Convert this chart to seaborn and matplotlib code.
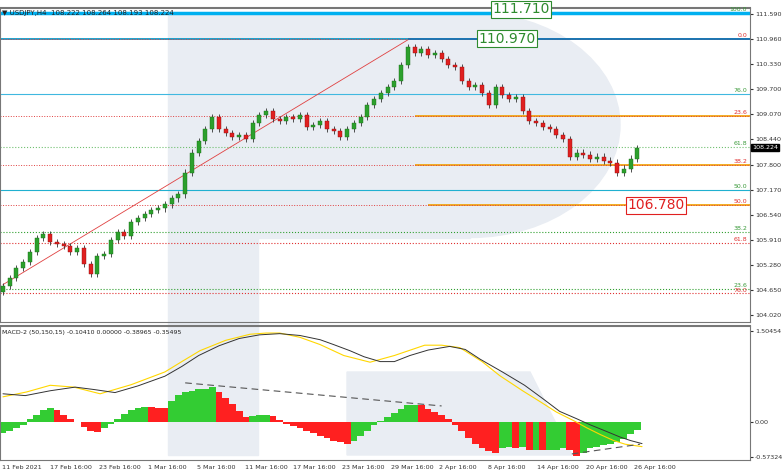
import numpy as np
import pandas as pd
import matplotlib
matplotlib.use("Agg")
import matplotlib.pyplot as plt
import seaborn as sns
from matplotlib.patches import Rectangle, Ellipse, Polygon

sns.set_style("white")
plt.rcParams['font.family'] = ['DejaVu Sans']

closes = [104.75,104.95,105.2,105.35,105.6,105.95,106.05,105.85,105.8,105.75,
          105.6,105.7,105.3,105.05,105.5,105.55,105.9,106.1,106.0,106.35,
          106.45,106.55,106.65,106.7,106.8,106.95,107.05,107.6,108.1,108.4,
          108.7,109.0,108.7,108.6,108.5,108.55,108.45,108.85,109.05,109.15,
          108.95,108.9,109.0,108.95,109.05,108.75,108.8,108.9,108.7,108.65,
          108.5,108.7,108.85,109.0,109.3,109.45,109.6,109.75,109.9,110.3,
          110.75,110.6,110.7,110.55,110.6,110.45,110.3,110.25,109.9,109.75,
          109.8,109.6,109.3,109.75,109.55,109.45,109.5,109.15,108.9,108.85,
          108.75,108.7,108.55,108.45,108.0,108.1,108.05,107.95,108.0,107.9,
          107.85,107.6,107.7,107.95,108.224]
open0 = 104.6
hist = [-0.18,-0.15,-0.1,-0.05,0.05,0.12,0.2,0.24,0.2,0.12,
        0.05,0.0,-0.08,-0.15,-0.16,-0.1,-0.02,0.06,0.14,0.2,
        0.23,0.26,0.25,0.24,0.23,0.35,0.45,0.5,0.52,0.55,
        0.55,0.58,0.5,0.4,0.3,0.18,0.08,0.1,0.12,0.12,
        0.1,0.04,-0.02,-0.06,-0.1,-0.14,-0.18,-0.22,-0.26,-0.3,
        -0.33,-0.35,-0.3,-0.22,-0.15,-0.05,0.02,0.08,0.15,0.22,
        0.28,0.29,0.28,0.22,0.17,0.12,0.05,-0.05,-0.15,-0.25,
        -0.35,-0.42,-0.48,-0.5,-0.42,-0.4,-0.42,-0.4,-0.45,-0.45,
        -0.46,-0.45,-0.45,-0.42,-0.45,-0.55,-0.5,-0.42,-0.4,-0.38,
        -0.36,-0.32,-0.28,-0.2,-0.12]
macd_x = [0,3.3,7,10.7,13.5,16.6,20,24,26.5,29,32,35,38,41,44,47,49,51.4,53.5,55.9,58,60.3,63,66.2,68.5,70.7,74,77.3,80,82.5,85,87,89,91.4,93,94.7]
macd_v = [0.47,0.44,0.52,0.58,0.54,0.49,0.6,0.76,0.92,1.10,1.26,1.38,1.44,1.46,1.43,1.36,1.28,1.18,1.08,1.0,1.0,1.10,1.19,1.25,1.2,1.04,0.83,0.61,0.39,0.18,0.06,-0.04,-0.13,-0.24,-0.3,-0.35]
sig_x = [0,3.5,7,10.5,14.4,19,24,26.5,29.2,33,36.6,39,41,44,47,50.5,54.4,58,62.5,65,67.7,71,73.6,77,79.6,82,84.7,86.5,88.5,90.5,92.2,94.7]
sig_v = [0.42,0.5,0.61,0.58,0.47,0.62,0.83,1.0,1.18,1.35,1.45,1.47,1.47,1.4,1.28,1.1,0.99,1.1,1.27,1.27,1.23,1.0,0.77,0.52,0.34,0.17,0.02,-0.09,-0.2,-0.3,-0.36,-0.40]
date_labels = ["11 Feb 2021","17 Feb 16:00","23 Feb 16:00","1 Mar 16:00","5 Mar 16:00",
               "11 Mar 16:00","17 Mar 16:00","23 Mar 16:00","29 Mar 16:00","2 Apr 16:00",
               "8 Apr 16:00","14 Apr 16:00","20 Apr 16:00","26 Apr 16:00"]
date_idx = [-0.15,6.96,14.2,21.5,28.7,35.9,42.96,50.2,57.5,64.6,71.9,79.1,86.4,93.5]
price_ticks = [111.59,110.96,110.33,109.70,109.07,108.44,107.80,107.17,106.54,105.91,105.28,104.65,104.02]
levels = [(111.62,'#00b0f0','-',"100.0",'#3a9a3a',-1,2.5),
          (110.97,'#0090c0','-',"0.0",'#e03030',-1,1.2),
          (109.57,'#40b8e0','-',"76.0",'#3a9a3a',-1,0.8),
          (109.02,'#f0a000','-',"23.6",'#e03030',61,1.2),
          (108.25,'#70c070',':',"61.8",'#3a9a3a',-1,0.8),
          (107.80,'#f0a000','-',"38.2",'#e03030',61,1.2),
          (107.17,'#20b0d0','-',"50.0",'#3a9a3a',-1,0.8),
          (106.78,'#f0a000','-',"50.0",'#e03030',63,1.2),
          (106.11,'#30a030',':',"38.2",'#3a9a3a',-1,0.8),
          (105.83,'#e03030',':',"61.8",'#e03030',-1,0.8),
          (104.68,'#30a030',':',"23.6",'#3a9a3a',-1,0.8),
          (104.56,'#e03030',':',"76.0",'#e03030',-1,0.8)]
red_dotted = [110.97,109.02,107.80,106.78]

W, H = 782, 473
fig = plt.figure(figsize=(W/100, H/100), dpi=100)
def rect(l, t, r, b):
    return [l/W, 1-b/H, (r-l)/W, (b-t)/H]

bg = fig.add_axes([0,0,1,1]); bg.set_xlim(0,W); bg.set_ylim(H,0); bg.axis('off')
wm = '#e9edf3'
bg.add_patch(Rectangle((168,15),90,440,color=wm))
bg.add_patch(Ellipse((470,125),300,225,color=wm))
bg.add_patch(Rectangle((258,13),212,225,color=wm))
bg.add_patch(Polygon([[347,372],[530,372],[572,455],[347,455]],color=wm))

ax = fig.add_axes(rect(0,8,750,322)); ax.patch.set_alpha(0)
ax2 = fig.add_axes(rect(0,326,750,460)); ax2.patch.set_alpha(0)

n = len(closes)
idx = np.arange(n)
opens = [open0] + closes[:-1]
df = pd.DataFrame({"i": idx, "o": opens, "c": closes})
df["hi"] = df[["o","c"]].max(axis=1) + 0.08
df["lo"] = df[["o","c"]].min(axis=1) - 0.08
up = df.c >= df.o
ax.vlines(df.i, df.lo, df.hi, color='#333333', lw=0.6, zorder=3)
ax.bar(df.i[up], (df.c-df.o)[up], bottom=df.o[up], width=0.6, color='#2ca02c', edgecolor='#1a6e1a', lw=0.3, zorder=4)
ax.bar(df.i[~up], (df.o-df.c)[~up], bottom=df.c[~up], width=0.6, color='#e02020', edgecolor='#901010', lw=0.3, zorder=4)

xmin, xmax = -0.44, 110.7
for p, col, ls, lab, lc, start, lw in levels:
    ax.hlines(p, start if start >= 0 else xmin, xmax, color=col, ls=ls, lw=lw, zorder=2)
    ax.text(110.3, p+0.02, lab, color=lc, fontsize=4.5, ha='right', va='bottom')
for p in red_dotted:
    ax.hlines(p, xmin, xmax, color='#e04040', ls=':', lw=0.7, zorder=2)
ax.plot([0, 60.3], [104.78, 110.97], color='#e04040', lw=0.6, zorder=2)
ax.hlines(110.97, 60, xmax, color='#1a70b0', lw=1.2, zorder=2)

def boxlabel(x, y, s, c, ec):
    ax.text(x, y, s, color=c, fontsize=10, ha='left', va='center', zorder=6,
            bbox=dict(boxstyle='square,pad=0.1', fc='white', ec=ec, lw=0.8))
boxlabel(72.5, 111.71, "111.710", '#2e8b2e', '#2e8b2e')
boxlabel(70.5, 110.97, "110.970", '#2e8b2e', '#2e8b2e')
boxlabel(92.5, 106.78, "106.780", '#e02020', '#e02020')

ax.set_xlim(xmin, xmax); ax.set_ylim(103.84, 111.74)
ax.yaxis.tick_right()
ax.set_yticks(price_ticks)
ax.set_yticklabels([f"{v:.3f}" for v in price_ticks])
ax.tick_params(axis='y', labelsize=4.6, length=2, pad=1.5, colors='#333333')
ax.set_xticks([])
ax.text(111.0, closes[-1], "108.224", fontsize=4.6, color='white', va='center',
        bbox=dict(boxstyle='square,pad=0.15', fc='black', ec='black'), clip_on=False)
ax.text(0.003, 0.995, "\u25bc USDJPY,H4  108.222 108.264 108.193 108.224", transform=ax.transAxes,
        fontsize=5, va='top', color='#222222')

cols = ['#33cc33' if i == 0 or hist[i] >= hist[i-1] else '#ff2020' for i in range(n)]
ax2.bar(idx, hist, width=1.0, color=cols, lw=0)
sns.lineplot(x=sig_x, y=sig_v, ax=ax2, color='#ffd700', lw=0.8)
sns.lineplot(x=macd_x, y=macd_v, ax=ax2, color='#333333', lw=0.7)
ax2.plot([27, 65], [0.65, 0.27], color='#555555', ls='--', lw=0.8, dashes=(6,4))
ax2.plot([84.3, 94.4], [-0.52, -0.36], color='#555555', ls='--', lw=0.8, dashes=(6,4))
ax2.set_xlim(xmin, xmax); ax2.set_ylim(-0.62, 1.586)
ax2.yaxis.tick_right()
ax2.set_yticks([1.50454, 0.0, -0.57324])
ax2.set_yticklabels(["1.50454", "0.00", "-0.57324"])
ax2.tick_params(axis='y', labelsize=4.6, length=2, pad=1.5, colors='#333333')
ax2.set_xticks(date_idx)
ax2.set_xticklabels(date_labels, ha='left')
ax2.tick_params(axis='x', labelsize=4.6, length=2, pad=1.5, colors='#333333')
ax2.text(0.003, 0.97, "MACD-2 (50,150,15) -0.10410 0.00000 -0.38965 -0.35495", transform=ax2.transAxes,
         fontsize=4.5, va='top', color='#222222')
for a in (ax, ax2):
    for s in a.spines.values():
        s.set_color('#777777'); s.set_linewidth(0.8)
    a.spines['top'].set_linewidth(1.5)

fig.savefig("out.png", dpi=100)
